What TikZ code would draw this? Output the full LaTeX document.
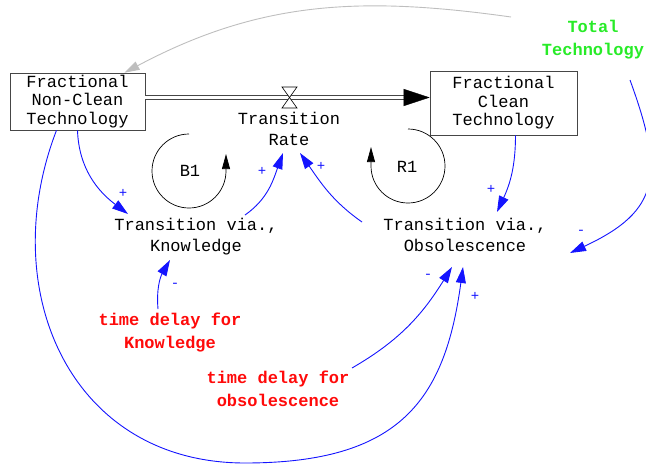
\documentclass[tikz,border=0pt]{standalone}
\usepackage{fontspec}
\setmonofont{Liberation Mono}
\usetikzlibrary{arrows.meta}
\definecolor{linkblue}{RGB}{20,20,255}
\definecolor{delayred}{RGB}{255,10,10}
\definecolor{totalgreen}{RGB}{40,235,40}
\definecolor{pipegray}{RGB}{70,70,70}
\definecolor{ghostgray}{RGB}{190,190,190}

\begin{document}
\begin{tikzpicture}[x=1pt,y=1pt,
    stock/.style = {rectangle,draw=pipegray,semithick,align=center,inner sep=0pt,
                    font=\ttfamily\fontsize{17}{18.5}\selectfont},
    aux/.style   = {align=center,inner sep=1pt,font=\ttfamily\fontsize{17}{21}\selectfont},
    delay/.style = {align=center,inner sep=1pt,text=delayred,
                    font=\ttfamily\bfseries\fontsize{17}{23}\selectfont},
    link/.style  = {draw=linkblue,line width=0.9pt,-{Triangle[length=16pt,width=10pt]}},
    loopline/.style = {draw=black,line width=0.7pt,-{Triangle[length=15pt,width=8pt]}},
    pol/.style   = {text=linkblue,inner sep=0pt,font=\ttfamily\fontsize{14}{14}\selectfont}]
\useasboundingbox (0,0) rectangle (646,-466);

% stocks and the flow between them
\node[stock,minimum width=135,minimum height=57] (noncl) at (77.5,-101.5) {Fractional\\Non-Clean\\Technology};
\node[stock,minimum width=147,minimum height=64] (clean) at (503.5,-103) {Fractional\\Clean\\Technology};
\coordinate (valve) at (289.5,-97.5);
\draw[pipegray,double=white,double distance=2.4pt,line width=1.2pt]
    (noncl.east |- valve) -- ([xshift=-24]clean.west |- valve);
\draw[-{Triangle[length=26pt,width=17pt]}] ([xshift=-26]clean.west |- valve) -- (clean.west |- valve);
\draw[black,semithick,fill=white] ([shift={(-7.5,10.5)}]valve) -- ++(15,0) -- ++(-15,-21) -- ++(15,0) -- cycle;

% auxiliaries
\node[aux] (rate) at (289,-129) {Transition\\Rate};
\node[aux] (viaknow) at (196,-237) {Transition via.,\\Knowledge};
\node[aux] (viaobs) at (465,-235) {Transition via.,\\Obsolescence};
\node[delay] (delayknow) at (170,-333) {time delay for\\Knowledge};
\node[delay] (delayobs) at (278,-389) {time delay for\\obsolescence};
\node[delay,text=totalgreen] (total) at (593,-40) {Total\\Technology};

% loops
\node[aux] (bone) at (190,-171) {B1};
\node[aux] (rone) at (407,-167) {R1};
\draw[loopline] ([shift={(-1,37)}]bone.center) arc[start angle=90,end angle=360,radius=37] -- ++(0,17);
\draw[loopline] ([shift={(1,38)}]rone.center) arc[start angle=90,end angle=-180,radius=37] -- ++(0,19);

% links
\draw[link] (noncl.south) to[out=-88,in=143] ([shift={(-68,23)}]viaknow.center);
\draw[link] ([xshift=-21]noncl.south) .. controls (-5,-290) and (70,-463) .. (245,-463)
    .. controls (400,-463) and (445,-400) .. ([shift={(-2,-32)}]viaobs.center);
\draw[link] ([shift={(49,22)}]viaknow.center) to[out=35,in=-110] ([shift={(-6,-24)}]rate.center);
\draw[link] ([shift={(-103,13)}]viaobs.center) to[out=145,in=-55] ([shift={(11,-24)}]rate.center);
\draw[link] ([xshift=12]clean.south) to[out=-90,in=65] ([shift={(32,23)}]viaobs.center);
\draw[link] ([shift={(37,-40)}]total.center) to[out=-70,in=25,looseness=1.4] ([shift={(105,-18)}]viaobs.center);
\draw[link] ([shift={(-12,24)}]delayknow.center) to[out=95,in=-120] ([shift={(-26,-23)}]viaknow.center);
\draw[link] ([shift={(74,21)}]delayobs.center) to[out=30,in=-122] ([shift={(-13,-32)}]viaobs.center);
\coordinate (ghost) at (511,-17);
\draw[draw=ghostgray,line width=0.9pt,-{Triangle[length=15pt,width=9pt]}] (ghost) to[out=172,in=28] ([xshift=47]noncl.north);

% polarities
\foreach \x/\y/\s [count=\i] in {123/193/+, 262/171/+, 321/166/+, 491/189/+,
                                 581/232/-, 428/276/-, 475/296/+, 175/285/-}
    \node[pol] (pol\i) at (\x,-\y) {\s};
\end{tikzpicture}
\end{document}
